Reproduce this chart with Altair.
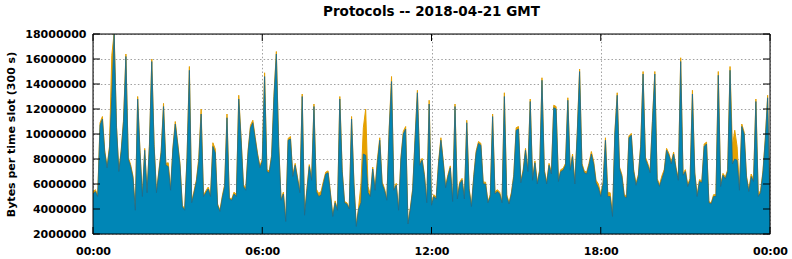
import altair as alt
import pandas as pd

TITLE = "Protocols -- 2018-04-21 GMT"
Y_TITLE = "Bytes per time slot (300 s)"
Y_TICKS = [2000000, 4000000, 6000000, 8000000, 10000000,
           12000000, 14000000, 16000000, 18000000]
X_TICKS_H = [0, 6, 12, 18, 24]
X_TICK_LABELS = ["00:00", "06:00", "12:00", "18:00", "00:00"]
SLOT_MINUTES = 5

# main (blue) series, millions of bytes per 5-minute slot
blue_mb = [
    5.2, 5.4, 5.0, 10.7, 11.2, 8.5, 7.3, 8.8, 13.0, 18.0, 10.5, 7.0,
    8.6, 11.0, 16.2, 8.0, 7.4, 6.5, 3.9, 12.8, 8.5, 5.0, 8.7, 5.3,
    9.0, 15.8, 9.0, 5.3, 6.9, 8.5, 12.2, 7.5, 7.4, 5.5, 8.8, 10.8,
    9.2, 7.5, 4.2, 3.9, 8.0, 15.1, 4.5, 5.3, 6.2, 7.8, 11.6, 5.0,
    5.3, 5.6, 5.0, 9.0, 8.5, 4.3, 3.8, 4.9, 5.8, 11.3, 4.8, 4.7,
    5.2, 5.0, 12.8, 9.5, 5.8, 5.5, 8.6, 10.5, 10.9, 9.6, 8.3, 7.3,
    7.8, 14.6, 7.0, 6.9, 8.2, 13.0, 16.4, 9.0, 4.7, 5.2, 3.0, 9.5,
    9.6, 6.6, 7.5, 6.4, 5.3, 13.0, 3.5, 5.5, 7.4, 6.3, 12.2, 5.4,
    5.0, 5.1, 6.0, 6.8, 6.9, 5.2, 3.4, 4.5, 3.9, 12.8, 7.0, 4.5,
    4.4, 4.0, 11.2, 6.0, 2.6, 4.0, 4.5, 8.4, 8.3, 5.3, 5.0, 7.2,
    5.5, 7.7, 9.5, 6.0, 5.5, 4.7, 10.3, 14.2, 5.5, 5.9, 3.9, 8.0,
    10.0, 10.4, 2.8, 4.0, 5.5, 9.5, 13.3, 7.5, 7.9, 6.6, 4.5, 12.4,
    4.3, 5.0, 4.8, 7.6, 9.5, 7.7, 5.7, 6.6, 7.3, 4.6, 12.2, 4.8,
    6.0, 6.3, 4.8, 10.9, 5.5, 4.2, 6.6, 8.5, 9.25, 9.1, 6.0, 6.0,
    4.5, 5.0, 11.4, 5.2, 5.4, 5.2, 4.5, 13.0, 5.0, 4.4, 5.2, 6.6,
    10.3, 10.4, 6.1, 7.0, 8.7, 7.0, 12.6, 6.3, 7.7, 6.0, 7.0, 14.3,
    7.0, 6.0, 7.5, 6.8, 12.1, 12.0, 6.2, 7.0, 7.1, 7.5, 12.7, 7.1,
    8.2, 6.0, 10.0, 15.0, 7.5, 6.9, 6.8, 7.5, 8.4, 7.6, 6.1, 5.7,
    5.0, 6.0, 9.5, 5.0, 5.0, 3.4, 10.0, 13.1, 7.2, 6.6, 5.0, 4.9,
    9.7, 9.9, 7.0, 5.9, 6.6, 9.0, 14.8, 8.0, 7.5, 6.9, 11.0, 14.8,
    6.3, 5.8, 6.4, 7.0, 8.7, 8.3, 7.6, 8.4, 7.2, 6.3, 15.8, 6.7,
    7.0, 5.8, 6.3, 13.2, 6.8, 5.0, 6.2, 6.1, 9.0, 9.2, 4.5, 4.4,
    5.0, 5.0, 14.7, 5.8, 6.7, 6.4, 7.0, 15.1, 7.6, 8.0, 7.9, 5.5,
    10.6, 10.0, 6.5, 5.4, 6.6, 6.2, 12.6, 5.0, 5.3, 6.9, 9.5, 12.9,
    3.5,
]

# other protocols (orange, stacked on top), millions of bytes per slot
other_mb = [
    .15, .15, .15, .2, .2, .15, .15, .2, 3.3, .1, .15, .15,
    .15, .2, .2, .15, .15, .15, .1, .2, .15, .1, .15, .1,
    .15, .2, .15, .1, .15, .15, .25, .15, .3, .15, .15, .2,
    .15, .15, .1, .1, .15, .3, .1, .15, .15, .3, .4, .1,
    .15, .15, .15, .3, .3, .1, .1, .15, .15, .3, .1, .1,
    .15, .15, .3, .2, .15, .15, .15, .2, .2, .15, .15, .15,
    .15, .3, .15, .15, .15, .2, .2, .15, .1, .15, .1, .15,
    .2, .15, .15, .15, .15, .2, .1, .15, .15, .15, .2, .2,
    .25, .3, .2, .15, .15, .15, .1, .15, .1, .2, .15, .1,
    .1, .1, .2, .15, .1, .15, 1.5, 2.1, 3.7, .5, .15, .15,
    .15, .3, .2, .15, .15, .1, .2, .4, .15, .15, .1, .15,
    .2, .2, .1, .1, .15, .2, .2, .15, .15, .15, .1, .3,
    .1, .15, .15, .2, .2, .15, .15, .15, .15, .1, .2, .15,
    .15, .15, .1, .2, .15, .1, .15, .15, .15, .15, .15, .15,
    .1, .15, .2, .15, .15, .15, .1, .3, .15, .1, .15, .15,
    .2, .2, .15, .15, .15, .15, .2, .15, .15, .15, .15, .2,
    .15, .15, .15, .15, .2, .2, .15, .15, .15, .15, .2, .15,
    .2, .15, .15, .2, .15, .15, .15, .15, .2, .2, .2, .3,
    .2, .15, .2, .3, .3, .1, .15, .2, .15, .15, .15, .15,
    .15, .15, .15, .15, .15, .15, .2, .15, .15, .15, .15, .2,
    .15, .15, .25, .15, .15, .15, .15, .15, .15, .15, .3, .15,
    .15, .15, .15, .3, .15, .15, .15, .15, .2, .15, .1, .1,
    .15, .15, .3, .15, .15, .15, .15, .3, 1.4, 2.3, 1.1, .15,
    .2, .15, .15, .15, .2, .15, .2, .15, .2, .15, .2, .2,
    .1,
]

BLUE = "#0086b6"
BLUE_EDGE = "#1d6a8c"
ORANGE = "#e5a000"
FONT = "DejaVu Sans"
W, H = 677, 200

hours = [i * SLOT_MINUTES / 60 for i in range(len(blue_mb))]
df = pd.DataFrame({
    "h": hours,
    "blue": [b * 1e6 for b in blue_mb],
    "total": [(b + o) * 1e6 for b, o in zip(blue_mb, other_mb)],
})

label_expr = "[" + ",".join(f"'{s}'" for s in X_TICK_LABELS) + "][indexof([" + \
    ",".join(str(v) for v in X_TICKS_H) + "], datum.value)]"

xscale = alt.Scale(domain=[0, 24], nice=False, zero=False)
yscale = alt.Scale(domain=[2000000, 18000000], nice=False, zero=False)

x_axis = alt.Axis(values=X_TICKS_H, labelExpr=label_expr, grid=True,
                  gridDash=[1.5, 2.2], gridColor="#a0a0a0", gridWidth=1,
                  ticks=False, tickSize=0, domain=False, labelFlush=False,
                  labelFont=FONT, labelFontSize=11, labelFontWeight="bold",
                  labelColor="black", labelPadding=11, labelOverlap=False,
                  title=None)
y_axis = alt.Axis(values=Y_TICKS, format="d", grid=True,
                  gridDash=[1.5, 2.2], gridColor="#a0a0a0", gridWidth=1,
                  ticks=False, tickSize=0, domain=False, labelFlush=False,
                  labelFont=FONT, labelFontSize=11, labelFontWeight="bold",
                  labelColor="black", labelPadding=7, labelOverlap=False,
                  title=Y_TITLE, titleFont=FONT, titleFontSize=11,
                  titleFontWeight="bold", titleColor="black",
                  titleX=-82, titleY=H / 2, titleAngle=270,
                  titleAlign="center", titleBaseline="middle")


def X(field):
    return alt.X(field, type="quantitative", scale=xscale, axis=x_axis)


def Y(field):
    return alt.Y(field, type="quantitative", scale=yscale, axis=y_axis)


base = alt.Chart(df)

orange_area = base.mark_area(color=ORANGE, clip=True, opacity=1,
                             line={"color": ORANGE, "strokeWidth": 1}).encode(
    x=X("h"), y=Y("total"))
blue_area = base.mark_area(color=BLUE, clip=True, opacity=1,
                           line={"color": BLUE_EDGE, "strokeWidth": 0.8}).encode(
    x=X("h"), y=Y("blue"))

# inward tick marks on all four sides
ytick_df = pd.DataFrame({"v": Y_TICKS})
xtick_df = pd.DataFrame({"h": X_TICKS_H})
TL = 7
left_ticks = alt.Chart(ytick_df).mark_rule(color="black").encode(
    y=Y("v"), x=alt.value(0), x2=alt.value(TL))
right_ticks = alt.Chart(ytick_df).mark_rule(color="black").encode(
    y=Y("v"), x=alt.value(W - TL), x2=alt.value(W))
top_ticks = alt.Chart(xtick_df).mark_rule(color="black").encode(
    x=X("h"), y=alt.value(0), y2=alt.value(TL))
bottom_ticks = alt.Chart(xtick_df).mark_rule(color="black").encode(
    x=X("h"), y=alt.value(H - TL), y2=alt.value(H))

frame = alt.Chart(pd.DataFrame({"a": [0]})).mark_rect(
    fill=None, stroke="black", strokeWidth=1).encode(
    x=alt.value(0), x2=alt.value(W), y=alt.value(0), y2=alt.value(H))

chart = alt.layer(
    orange_area, blue_area, left_ticks, right_ticks, top_ticks, bottom_ticks, frame
).properties(
    width=W, height=H,
    title=alt.TitleParams(TITLE, font=FONT, fontSize=13.5, fontWeight="bold",
                          color="black", anchor="middle", frame="group",
                          baseline="alphabetic", offset=2, dy=3),
    autosize=alt.AutoSizeParams(type="none"),
    padding={"left": 93, "top": 34, "right": 22, "bottom": 25},
).configure_view(stroke=None).configure(background="white")

chart.save("out.html", embed_options={"renderer": "svg", "actions": False})
